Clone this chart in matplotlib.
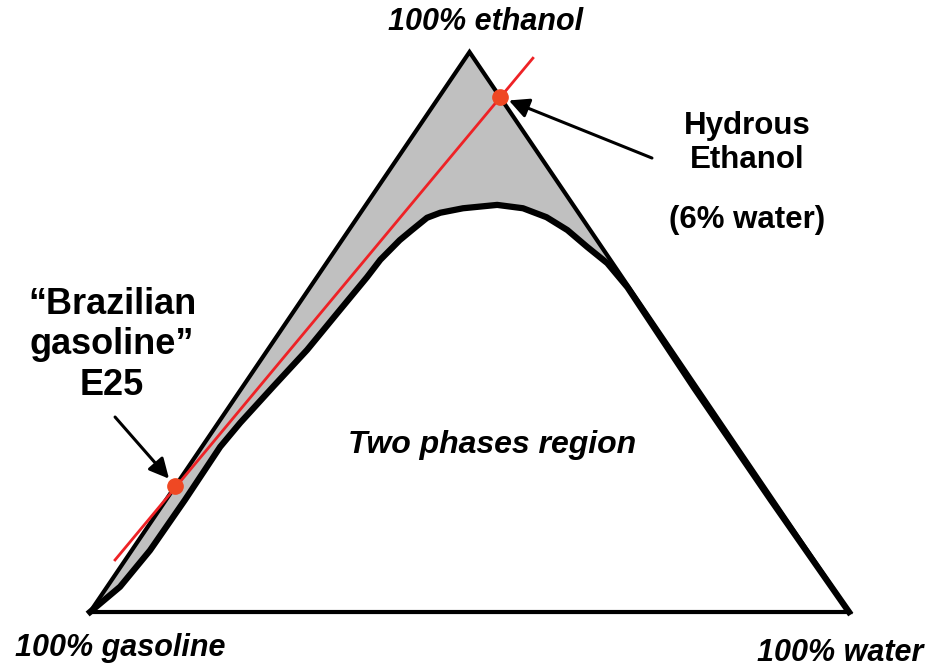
import numpy as np
import matplotlib
matplotlib.use("Agg")
import matplotlib.pyplot as plt

plt.rcParams['font.family'] = ['Liberation Sans', 'DejaVu Sans']

# compositions as fractions (ethanol, water); gasoline = 1 - ethanol - water
vertex_names = ["100% gasoline", "100% water", "100% ethanol"]
vertex_ethanol = [0.0, 0.0, 1.0]
vertex_water = [0.0, 1.0, 0.0]

# miscibility (binodal) curve, from gasoline corner over to the water corner
curve_ethanol = [0.0, 0.045, 0.110, 0.200, 0.295, 0.338, 0.402, 0.468, 0.534,
                 0.598, 0.629, 0.664, 0.682, 0.704, 0.713, 0.721, 0.727,
                 0.721, 0.705, 0.682, 0.652, 0.623, 0.580, 0.40, 0.20, 0.0]
curve_water = [0.0, 0.017, 0.024, 0.025, 0.024, 0.029, 0.040, 0.052, 0.059,
               0.066, 0.068, 0.076, 0.083, 0.092, 0.105, 0.131, 0.173,
               0.210, 0.249, 0.288, 0.329, 0.370, 0.418, 0.596, 0.797, 1.0]
merge_idx = 22  # where the curve meets the ethanol-water side

# mixing line through E25 and hydrous ethanol
line_ethanol = [0.093, 0.989]
line_water = [-0.0135, 0.089]
point_names = ["E25", "Hydrous ethanol"]
point_ethanol = [0.225, 0.92]
point_water = [0.0, 0.08]


def to_xy(e, w):
    e = np.asarray(e, dtype=float)
    w = np.asarray(w, dtype=float)
    return w + e / 2, e


fig = plt.figure(figsize=(9.4, 6.67), dpi=100)
ax = fig.add_axes([0, 0, 1, 1])
ax.set_xlim(-0.1186, 1.1199)
ax.set_ylim(-0.0982, 1.0929)
ax.axis("off")

tx, ty = to_xy(vertex_ethanol, vertex_water)
cx, cy = to_xy(curve_ethanol, curve_water)

# grey single-phase band between the sides and the curve
fx = np.concatenate([cx[:merge_idx + 1], [tx[2]]])
fy = np.concatenate([cy[:merge_idx + 1], [ty[2]]])
ax.fill(fx, fy, color="#c0c0c0", zorder=1)

ax.plot(np.append(tx, tx[0]), np.append(ty, ty[0]), color="black", lw=3,
        solid_joinstyle="miter", zorder=2)
ax.plot(cx, cy, color="black", lw=4.5, solid_joinstyle="round", zorder=3)

lx, ly = to_xy(line_ethanol, line_water)
ax.plot(lx, ly, color="#ee2226", lw=2, zorder=4)
px, py = to_xy(point_ethanol, point_water)
ax.plot(px, py, "o", color="#ef4823", ms=11, zorder=5)

arrow = dict(arrowstyle="-|>", color="black", lw=2.2, mutation_scale=30,
             shrinkA=0, shrinkB=7)
ax.annotate("", xy=(px[0], py[0]), xytext=(0.0330, 0.3482), arrowprops=arrow)
ax.annotate("", xy=(px[1], py[1]), xytext=(0.7404, 0.8107), arrowprops=arrow)

ax.text(0.5217, 1.0536, "100% ethanol", ha="center", va="center",
        fontsize=22, fontweight="bold", fontstyle="italic")
ax.text(0.0395, -0.0640, "100% gasoline", ha="center", va="center",
        fontsize=22, fontweight="bold", fontstyle="italic")
ax.text(0.9881, -0.0730, "100% water", ha="center", va="center",
        fontsize=22, fontweight="bold", fontstyle="italic")
ax.text(0.5296, 0.2980, "Two phases region", ha="center", va="center",
        fontsize=23, fontweight="bold", fontstyle="italic")
ax.text(0.8656, 0.8375, "Hydrous\nEthanol", ha="center", va="center",
        fontsize=22.5, fontweight="bold", linespacing=1.16)
ax.text(0.8656, 0.7000, "(6% water)", ha="center", va="center",
        fontsize=22.5, fontweight="bold")
ax.text(0.0290, 0.4770, "\u201cBrazilian\ngasoline\u201d\nE25", ha="center",
        va="center", fontsize=26, fontweight="bold", linespacing=1.2)

fig.savefig("out.png", dpi=100)
